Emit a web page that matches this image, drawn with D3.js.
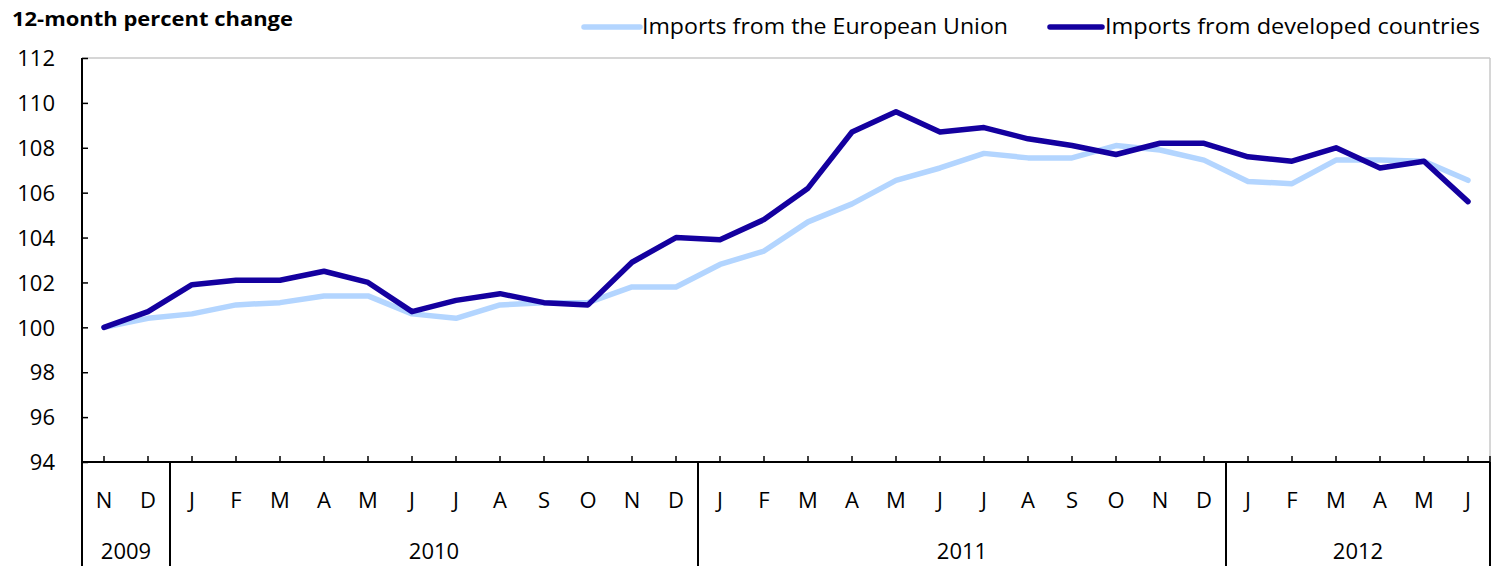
<!DOCTYPE html>
<html><head><meta charset="utf-8">
<script src="https://cdn.jsdelivr.net/npm/d3@7"></script>
<style>body{margin:0;background:#fff}svg{display:block}text{font-family:"Open Sans",sans-serif;fill:#000}</style>
</head><body><svg id="c" width="1501" height="566"></svg>
<script>
const months = ["N","D","J","F","M","A","M","J","J","A","S","O","N","D","J","F","M","A","M","J","J","A","S","O","N","D","J","F","M","A","M","J"];
const yearLabels = ["2009","2010","2011","2012"];
const yearSpans = [2,12,12,6];
const euImports = [100.0,100.4,100.6,101.0,101.1,101.4,101.4,100.6,100.4,101.0,101.1,101.1,101.8,101.8,102.8,103.4,104.7,105.5,106.55,107.1,107.75,107.55,107.55,108.1,107.9,107.45,106.5,106.4,107.45,107.45,107.4,106.55];
const devImports = [100.0,100.7,101.9,102.1,102.1,102.5,102.0,100.7,101.2,101.5,101.1,101.0,102.9,104.0,103.9,104.8,106.2,108.7,109.6,108.7,108.9,108.4,108.1,107.7,108.2,108.2,107.6,107.4,108.0,107.1,107.4,105.6];
const yTicks = [94,96,98,100,102,104,106,108,110,112];
const seriesNames = ["Imports from the European Union","Imports from developed countries"];
const colors = ["#b3d5ff","#14009f"];

const svg = d3.select("#c");
const L = 82, R = 1490, T = 58, B = 462, BOT = 566;
const idx = d3.range(months.length);
const x = d3.scaleBand().domain(idx).range([L, R]).padding(0);
const cx = i => x(i) + x.bandwidth()/2;
const y = d3.scaleLinear().domain([94,112]).range([B, T]);

// plot border (top/right gray)
svg.append("line").attr("x1",L).attr("x2",R).attr("y1",T).attr("y2",T).attr("stroke","#c8c8c8").attr("stroke-width",1.5);
svg.append("line").attr("x1",R).attr("x2",R).attr("y1",T).attr("y2",B).attr("stroke","#c8c8c8").attr("stroke-width",1.5);

// y axis
const yAxis = d3.axisLeft(y).tickValues(yTicks).tickSize(0).tickPadding(0);
const gy = svg.append("g").attr("transform",`translate(${L},0)`).call(yAxis);
gy.select(".domain").remove();
gy.selectAll("text").attr("x",-27).attr("dy","0.35em").style("font-size","22px").style("font-family","'Open Sans',sans-serif").attr("fill","#000");
gy.selectAll(".tick").append("line").attr("x1",0).attr("x2",6).attr("stroke","#000").attr("stroke-width",1.5);
svg.append("line").attr("x1",L).attr("x2",L).attr("y1",T).attr("y2",BOT).attr("stroke","#000").attr("stroke-width",2);

// x axis
svg.append("line").attr("x1",L).attr("x2",R).attr("y1",B).attr("y2",B).attr("stroke","#000").attr("stroke-width",2);
svg.selectAll(".xt").data(idx).enter().append("line")
  .attr("x1",cx).attr("x2",cx).attr("y1",B).attr("y2",B-6).attr("stroke","#000").attr("stroke-width",1.5);
svg.append("line").attr("x1",R).attr("x2",R).attr("y1",B).attr("y2",B-6).attr("stroke","#000").attr("stroke-width",1.5);
svg.selectAll(".ml").data(idx).enter().append("text")
  .attr("x",cx).attr("y",500).attr("dy","0.35em").attr("text-anchor","middle")
  .style("font-size","22px").text(i=>months[i]);

// year groups
let start = 0;
const yearPos = yearSpans.map(n => { const s = start; start += n; return [s, start-1]; });
yearPos.forEach((p,k) => {
  const x0 = x(p[0]), x1 = x(p[1]) + x.bandwidth();
  svg.append("line").attr("x1",x1).attr("x2",x1).attr("y1",B).attr("y2",BOT).attr("stroke","#000").attr("stroke-width",2);
  svg.append("text").attr("x",(x0+x1)/2).attr("y",551).attr("dy","0.35em").attr("text-anchor","middle")
    .style("font-size","22px").text(yearLabels[k]);
});

// lines
const line = d3.line().x((d,i)=>cx(i)).y(d=>y(d));
[euImports, devImports].forEach((s,k) => {
  svg.append("path").datum(s).attr("d",line).attr("fill","none").attr("stroke",colors[k])
    .attr("stroke-width",5.5).attr("stroke-linejoin","round").attr("stroke-linecap","round");
});

// title
svg.append("text").attr("x",12).attr("y",19).attr("dy","0.35em").style("font-size","20px").style("font-weight","bold")
  .attr("textLength",281).attr("lengthAdjust","spacingAndGlyphs").text("12-month percent change");

// legend
const leg = [{x1:584,x2:640,tx:642,tw:366},{x1:1050,x2:1102,tx:1105,tw:375}];
leg.forEach((l,k) => {
  svg.append("line").attr("x1",l.x1).attr("x2",l.x2).attr("y1",27).attr("y2",27).attr("stroke",colors[k]).attr("stroke-width",5.5).attr("stroke-linecap","round");
  svg.append("text").attr("x",l.tx).attr("y",27).attr("dy","0.35em").style("font-size","21px")
    .attr("textLength",l.tw).attr("lengthAdjust","spacingAndGlyphs").text(seriesNames[k]);
});
</script></body></html>
